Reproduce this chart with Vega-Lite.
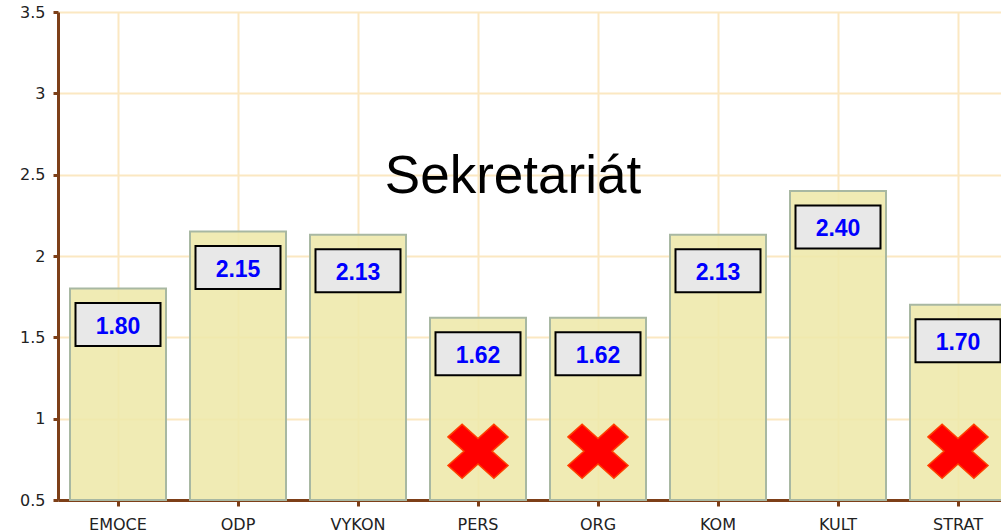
{
  "$schema": "https://vega.github.io/schema/vega-lite/v6.json",
  "width": 960,
  "height": 488,
  "autosize": "none",
  "padding": {"left": 58, "top": 12, "right": 0, "bottom": 32},
  "background": "white",
  "config": {"view": {"stroke": null}},
  "data": {"values": [
    {"cat": "EMOCE", "value": 1.80, "flag": false},
    {"cat": "ODP", "value": 2.15, "flag": false},
    {"cat": "VYKON", "value": 2.13, "flag": false},
    {"cat": "PERS", "value": 1.62, "flag": true},
    {"cat": "ORG", "value": 1.62, "flag": true},
    {"cat": "KOM", "value": 2.13, "flag": false},
    {"cat": "KULT", "value": 2.40, "flag": false},
    {"cat": "STRAT", "value": 1.70, "flag": true}
  ]},
  "encoding": {
    "x": {
      "field": "cat", "type": "nominal", "sort": null,
      "scale": {"paddingInner": 0.2, "paddingOuter": 0.1},
      "axis": {
        "title": null, "labelAngle": 0,
        "grid": true, "gridColor": "#fbe8c2", "gridWidth": 2,
        "domainColor": "#7d3f18", "domainWidth": 3,
        "tickColor": "#7d3f18", "tickWidth": 3, "tickSize": 6,
        "labelFont": "DejaVu Sans", "labelFontSize": 16, "labelColor": "#222222",
        "labelPadding": 10
      }
    }
  },
  "layer": [
    {
      "mark": {"type": "bar", "fill": "#eee8aa", "fillOpacity": 0.88, "stroke": "#a8b8a2", "strokeWidth": 2},
      "encoding": {
        "y": {
          "field": "value", "type": "quantitative",
          "scale": {"domain": [0.5, 3.5], "zero": false, "nice": false},
          "axis": {
            "title": null, "values": [0.5, 1, 1.5, 2, 2.5, 3, 3.5],
            "labelExpr": "datum.value",
            "grid": true, "gridColor": "#fbe8c2", "gridWidth": 2,
            "domainColor": "#7d3f18", "domainWidth": 3,
            "tickColor": "#7d3f18", "tickWidth": 3, "tickSize": 5,
            "labelFont": "DejaVu Sans", "labelFontSize": 16, "labelColor": "#222222",
            "labelPadding": 8
          }
        },
        "y2": {"datum": 0.5}
      }
    },
    {
      "mark": {"type": "point", "shape": "M-1,-0.506L1,-0.506L1,0.506L-1,0.506Z", "size": 7225, "filled": true, "fill": "#e8e8e8", "stroke": "#000000", "strokeWidth": 2, "opacity": 1, "yOffset": 36},
      "encoding": {"y": {"field": "value", "type": "quantitative"}}
    },
    {
      "mark": {"type": "text", "font": "Liberation Sans", "fontSize": 23, "fontWeight": "bold", "color": "#0000ff", "baseline": "middle", "align": "center", "yOffset": 38},
      "encoding": {
        "y": {"field": "value", "type": "quantitative"},
        "text": {"field": "value", "type": "quantitative", "format": ".2f"}
      }
    },
    {
      "transform": [{"filter": "datum.flag"}],
      "mark": {"type": "point", "shape": "M-1,-0.477L-0.53,-0.9L0,-0.423L0.53,-0.9L1,-0.477L0.47,0L1,0.477L0.53,0.9L0,0.423L-0.53,0.9L-1,0.477L-0.47,0Z", "size": 3600, "filled": true, "fill": "#ff0000", "stroke": "#ff4000", "strokeWidth": 1.5, "opacity": 1},
      "encoding": {"y": {"datum": 0.8}}
    },
    {
      "data": {"values": [{"t": "Sekretariát"}]},
      "mark": {"type": "text", "font": "Liberation Sans", "fontSize": 53, "color": "#000000", "baseline": "alphabetic", "align": "center", "dx": 35},
      "encoding": {
        "x": {"datum": "PERS"},
        "y": {"datum": 2.39},
        "text": {"field": "t"}
      }
    }
  ]
}
